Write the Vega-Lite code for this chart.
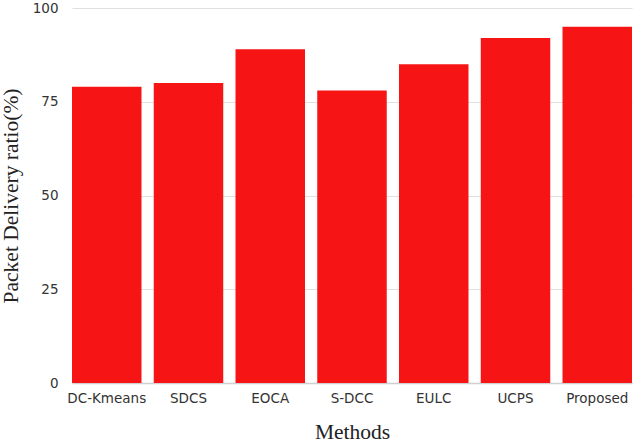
{
  "$schema": "https://vega.github.io/schema/vega-lite/v6.json",
  "autosize": "none",
  "width": 560,
  "height": 375,
  "padding": {"left": 72, "top": 8, "right": 12, "bottom": 62},
  "background": "white",
  "data": {
    "values": [
      {"method": "DC-Kmeans", "pdr": 79},
      {"method": "SDCS", "pdr": 80},
      {"method": "EOCA", "pdr": 89},
      {"method": "S-DCC", "pdr": 78},
      {"method": "EULC", "pdr": 85},
      {"method": "UCPS", "pdr": 92},
      {"method": "Proposed", "pdr": 95}
    ]
  },
  "mark": {"type": "bar", "color": "#f71414"},
  "encoding": {
    "x": {
      "field": "method",
      "type": "nominal",
      "sort": null,
      "scale": {"paddingInner": 0.15, "paddingOuter": 0},
      "axis": {
        "title": "Methods",
        "titleFont": "Liberation Serif",
        "titleFontSize": 21.5,
        "titleFontWeight": "normal",
        "titleColor": "#222",
        "titlePadding": 17,
        "labelAngle": 0,
        "labelFont": "DejaVu Sans",
        "labelFontSize": 13.5,
        "labelColor": "#333",
        "labelPadding": 8,
        "ticks": false,
        "domainColor": "#d0d0d0",
        "domainWidth": 1.5
      }
    },
    "y": {
      "field": "pdr",
      "type": "quantitative",
      "scale": {"domain": [0, 100]},
      "axis": {
        "title": "Packet Delivery ratio(%)",
        "titleFont": "Liberation Serif",
        "titleFontSize": 21.5,
        "titleFontWeight": "normal",
        "titleColor": "#222",
        "titlePadding": 10,
        "values": [0, 25, 50, 75, 100],
        "labelFont": "DejaVu Sans",
        "labelFontSize": 13.5,
        "labelColor": "#333",
        "labelPadding": 14,
        "ticks": false,
        "domain": false,
        "gridColor": "#e0e0e0"
      }
    }
  },
  "config": {"view": {"stroke": null}}
}
